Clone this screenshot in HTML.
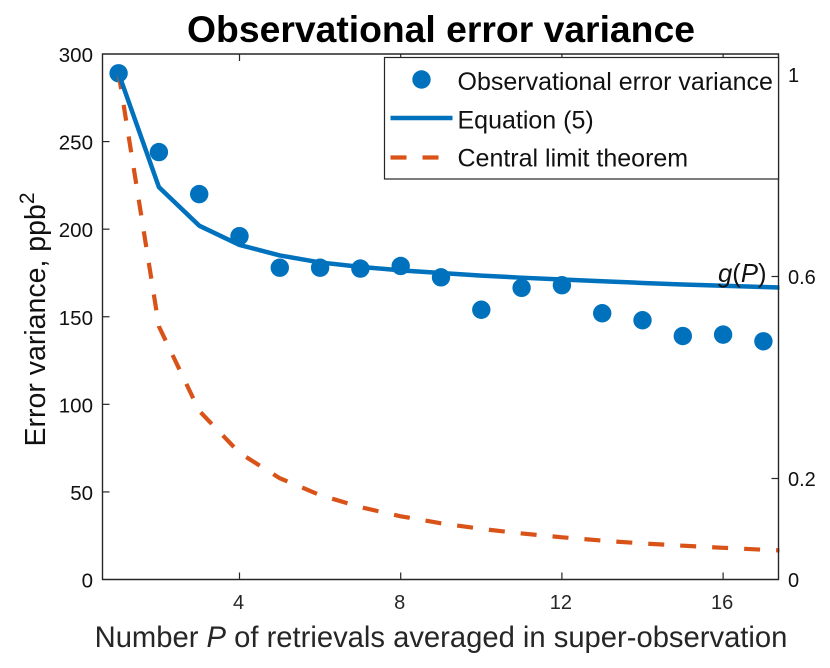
<!DOCTYPE html>
<html>
<head>
<meta charset="utf-8">
<style>
html,body{margin:0;padding:0;background:#fff;}
svg{display:block;font-family:"Liberation Sans",Arial,sans-serif;}
</style>
</head>
<body>
<svg id="chart" width="830" height="668" viewBox="0 0 830 668" xmlns="http://www.w3.org/2000/svg"></svg>
<script>
const observedP = [1,2,3,4,5,6,7,8,9,10,11,12,13,14,15,16,17];
const observedVariance = [289,244,220,196,178,178,177.5,179,172.5,154,166.5,168,152,148,139,139.8,136];
const curveP = [1,2,3,4,5,6,7,8,9,10,11,12,13,14,15,16,17,18];
const equationVariance = [289,224,202,191,185,181,178.5,176.5,175,173.5,172.3,171.3,170.3,169.3,168.4,167.7,167,166.3];
const cltVariance = [289,144.5,96.3,72.3,57.8,48.2,41.3,36.1,32.1,28.9,26.3,24.1,22.2,20.6,19.3,18.1,17,16.1];
const xTicks = [4,8,12,16];
const yTicks = [0,50,100,150,200,250,300];
const gTicks = [0,0.2,0.6,1];

const NS = 'http://www.w3.org/2000/svg';
const svg = document.getElementById('chart');
const L = 102.5, R = 778.5, T = 54, B = 579.5;
const xScale = v => 239.5 + (v - 4) * 40.3;
const yScale = v => B - v * (B - T) / 300;
const gScale = v => B - v * 505;

function make(tag, attrs, parent) {
  const el = document.createElementNS(NS, tag);
  for (const k in attrs) el.setAttribute(k, attrs[k]);
  (parent || svg).appendChild(el);
  return el;
}
function pathFrom(xs, ys) {
  return xs.map((x, i) => (i ? 'L' : 'M') + xScale(x).toFixed(2) + ' ' + yScale(ys[i]).toFixed(2)).join(' ');
}

const defs = make('defs', {});
const clip = make('clipPath', {id: 'plot-clip'}, defs);
make('rect', {x: L, y: T, width: R - L + 1, height: B - T}, clip);

/* series */
const plot = make('g', {'clip-path': 'url(#plot-clip)'});



observedP.forEach((p, i) => {
  const c = make('circle', {cx: xScale(p), cy: yScale(observedVariance[i]), r: 9.2, fill: '#0072BD'}, plot);
  
  
});
const cltLine = make('path', {d: pathFrom(curveP, cltVariance), fill: 'none', stroke: '#D95319', 'stroke-width': 4.2, 'stroke-dasharray': '16 16'}, plot);


const eqLine = make('path', {d: pathFrom(curveP, equationVariance), fill: 'none', stroke: '#0072BD', 'stroke-width': 4.5, 'stroke-linejoin': 'round'}, plot);



/* axes box */
const box = make('path', {d: `M${L} ${T}H${R}V${B}H${L}Z`, fill: 'none', stroke: '#262626', 'stroke-width': 1.4});



/* x ticks */
xTicks.forEach(v => {
  const x = xScale(v);
  const t = make('path', {d: `M${x} ${B}v-7M${x} ${T}v7`, stroke: '#262626', 'stroke-width': 1.2, fill: 'none'});
  
  
  const l = make('text', {x: x - 1, y: 609, 'text-anchor': 'middle', 'font-size': 20, fill: '#262626'});
  l.textContent = v;
  
  
});

/* left y ticks */
yTicks.forEach(v => {
  const y = yScale(v);
  if (v > 0 && v < 300) {
    const t = make('path', {d: `M${L} ${y}h7`, stroke: '#262626', 'stroke-width': 1.2});
    
    
  }
  const l = make('text', {x: 93, y: y + 8, 'text-anchor': 'end', 'font-size': 20.5, fill: '#111'});
  l.textContent = v;
  
  
});

/* right g(P) ticks */
gTicks.forEach(v => {
  const y = gScale(v);
  if (v > 0 && v < 1) {
    const t = make('path', {d: `M${R} ${y}h-7`, stroke: '#262626', 'stroke-width': 1.2});
    
    
  }
  const l = make('text', {x: 788, y: y + 7.5, 'font-size': 20, fill: '#111'});
  l.textContent = v;
  
  
});
</script>

<script>
/* labels and legend */
(function () {
  const s = document.getElementById('chart');
  s.insertAdjacentHTML('beforeend', `
  <text x="441" y="42" text-anchor="middle" font-size="37.3" font-weight="bold" fill="#000">Observational error variance</text>
  <text transform="translate(45,446.5) rotate(-90)" font-size="28.5" fill="#111">Error variance, ppb<tspan font-size="21" dy="-11">2</tspan></text>
  <text x="441" y="647" text-anchor="middle" font-size="29.2" fill="#262626">Number <tspan font-style="italic">P</tspan> of retrievals averaged in super-observation</text>
  <text x="718" y="282" font-size="25.7" fill="#111"><tspan font-style="italic">g</tspan>(<tspan font-style="italic">P</tspan>)</text>
  <g>
    <rect x="384.5" y="57.5" width="394" height="121.5" fill="#fff" stroke="#262626" stroke-width="1.2"/>
    <circle cx="421.5" cy="79.5" r="9.2" fill="#0072BD"/>
    <text x="457.5" y="90" font-size="25" fill="#111">Observational error variance</text>
    <line x1="390.5" y1="118" x2="452.5" y2="118" stroke="#0072BD" stroke-width="4.5"/>
    <text x="457.5" y="128.3" font-size="25" fill="#111">Equation (5)</text>
    <line x1="390.5" y1="157.5" x2="452.5" y2="157.5" stroke="#D95319" stroke-width="4.2" stroke-dasharray="16 16"/>
    <text x="457.5" y="166.7" font-size="25" fill="#111">Central limit theorem</text>
  </g>`);
})();
</script>
</body>
</html>
